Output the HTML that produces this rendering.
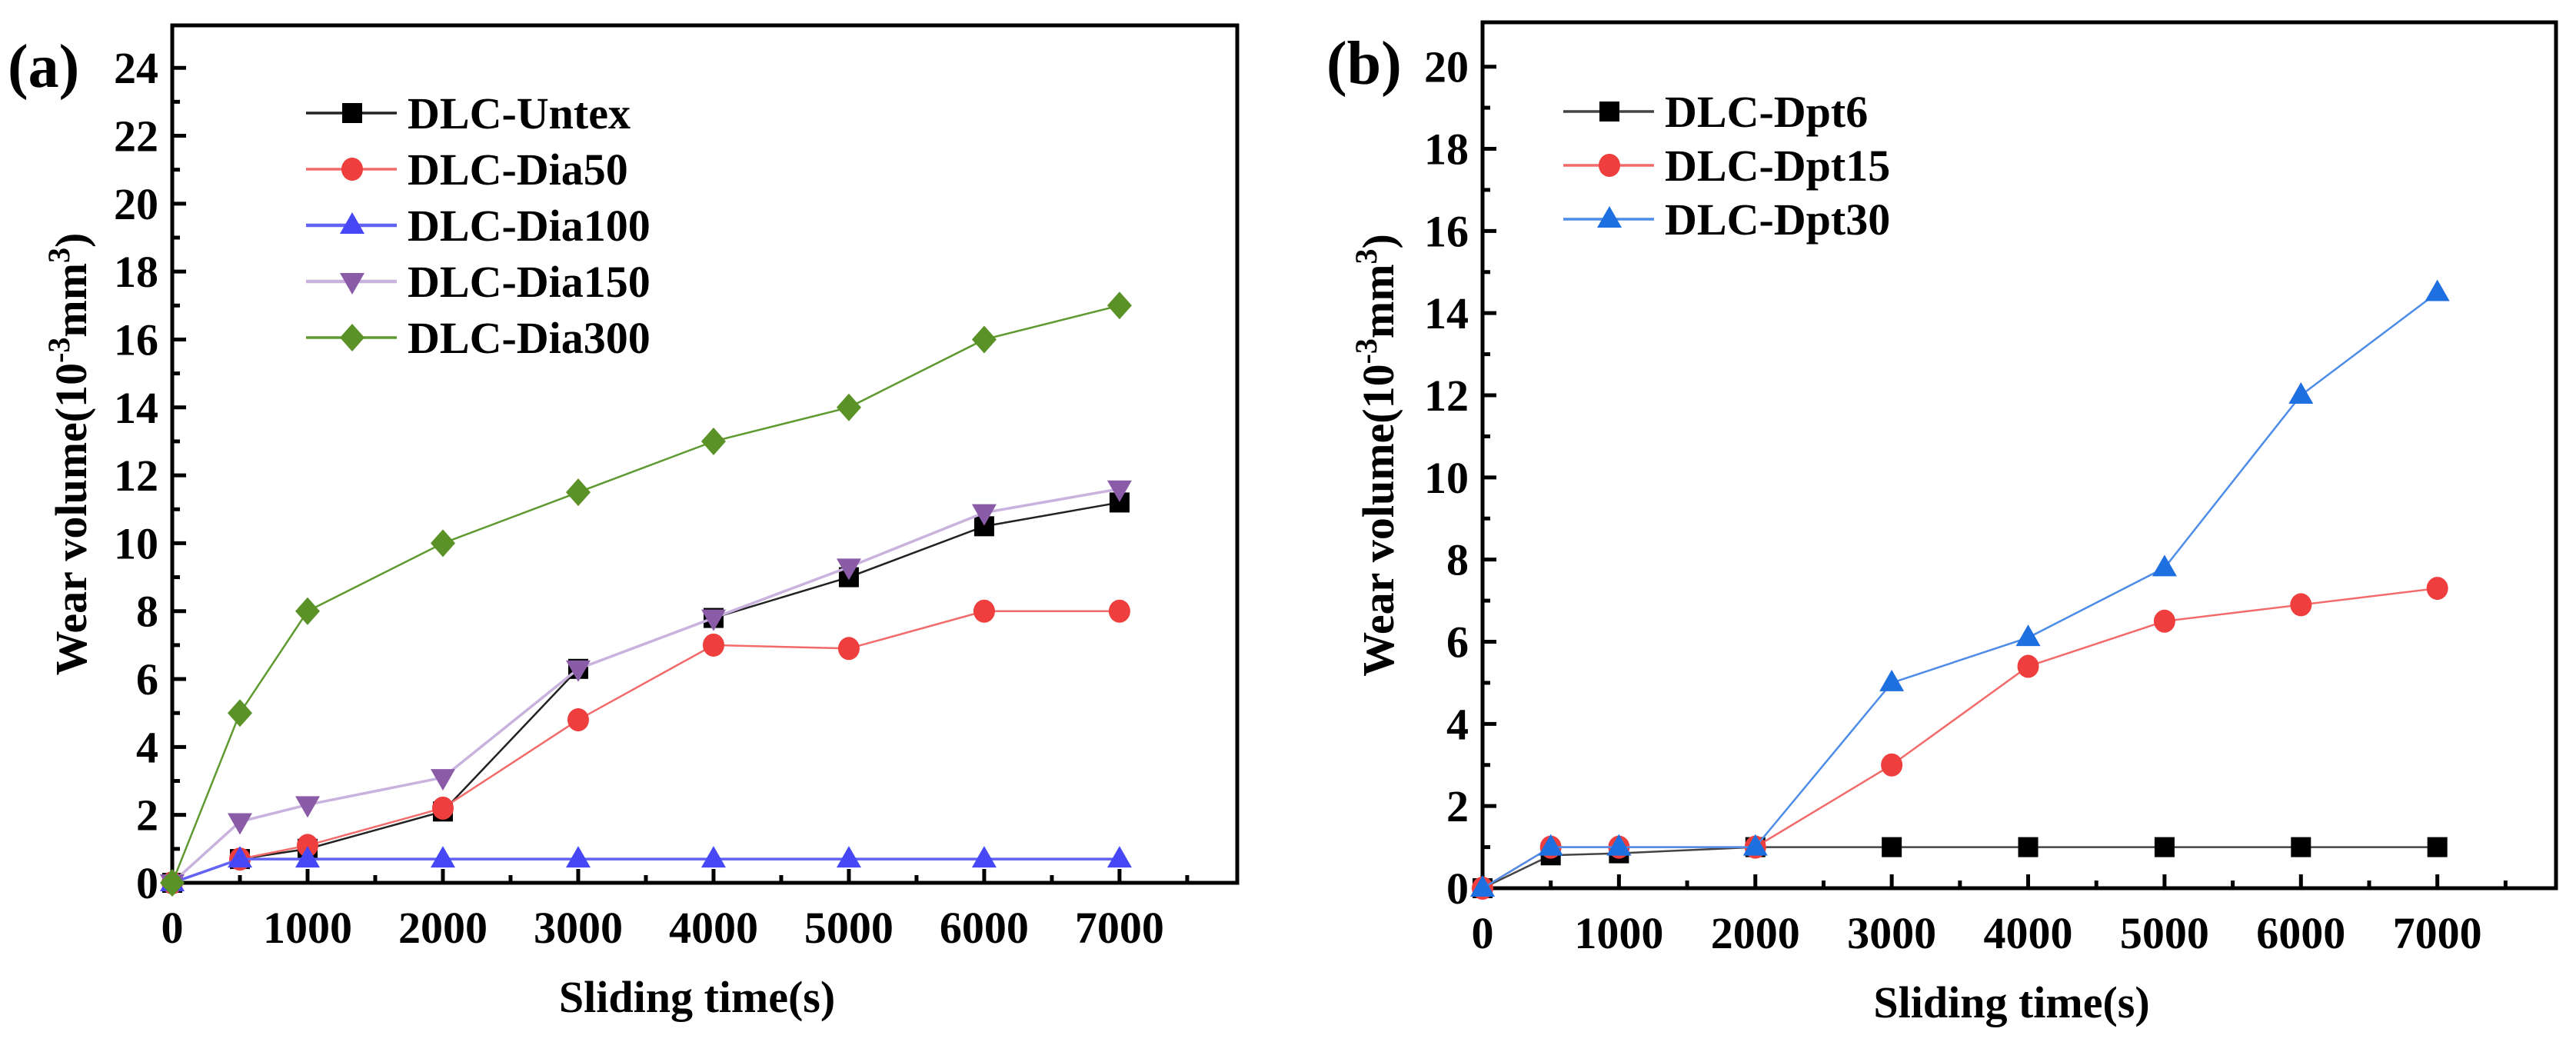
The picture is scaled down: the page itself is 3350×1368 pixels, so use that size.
<!DOCTYPE html>
<html><head><meta charset="utf-8"><style>
html,body{margin:0;padding:0;background:#fff;}
svg{display:block;font-family:"Liberation Serif",serif;font-weight:bold;}
</style></head><body>
<svg id="fig" width="3350" height="1368" viewBox="0 0 3350 1368" xmlns="http://www.w3.org/2000/svg"></svg>
<script>
const xTimes = [0,500,1000,2000,3000,4000,5000,6000,7000];
const xTickLabels = [0,1000,2000,3000,4000,5000,6000,7000];
const aNames = ["DLC-Untex","DLC-Dia50","DLC-Dia100","DLC-Dia150","DLC-Dia300"];
const aUntex = [0,0.7,1.0,2.1,6.3,7.8,9.0,10.5,11.2];
const aDia50 = [0,0.7,1.1,2.2,4.8,7.0,6.9,8.0,8.0];
const aDia100 = [0,0.7,0.7,0.7,0.7,0.7,0.7,0.7,0.7];
const aDia150 = [0,1.8,2.3,3.1,6.3,7.8,9.3,10.9,11.6];
const aDia300 = [0,5,8,10,11.5,13,14,16,17];
const aYTicks = [0,2,4,6,8,10,12,14,16,18,20,22,24];
const bNames = ["DLC-Dpt6","DLC-Dpt15","DLC-Dpt30"];
const bDpt6 = [0,0.8,0.85,1.0,1.0,1.0,1.0,1.0,1.0];
const bDpt15 = [0,1.0,1.0,1.0,3.0,5.4,6.5,6.9,7.3];
const bDpt30 = [0,1.0,1.0,1.0,5.0,6.1,7.8,12.0,14.5];
const bYTicks = [0,2,4,6,8,10,12,14,16,18,20];

const NS="http://www.w3.org/2000/svg";
const svg=document.getElementById('fig');
function mk(tag,attrs,parent){const e=document.createElementNS(NS,tag);for(const k in attrs)e.setAttribute(k,attrs[k]);(parent||svg).appendChild(e);return e;}

function marker(g,shape,cx,cy,color){
  let e;
  if(shape==='square'){e=mk('rect',{x:cx-13,y:cy-13,width:26,height:26,fill:color},g);}
  else if(shape==='circle'){e=mk('ellipse',{cx:cx,cy:cy,rx:14,ry:15,fill:color},g);}
  else if(shape==='up'){e=mk('polygon',{points:`${cx},${cy-17} ${cx+16},${cy+11} ${cx-16},${cy+11}`,fill:color},g);}
  else if(shape==='down'){e=mk('polygon',{points:`${cx},${cy+17} ${cx+16},${cy-11} ${cx-16},${cy-11}`,fill:color},g);}
  else {e=mk('polygon',{points:`${cx},${cy-18} ${cx+16},${cy} ${cx},${cy+18} ${cx-16},${cy}`,fill:color},g);}
  return e;
}

function panel(cfg){
  const {L,R,T,B,ymax,xmax}=cfg;
  const X=v=>L+(v/xmax)*(R-L);
  const Y=v=>B-(v/ymax)*(B-T);
  const g=mk('g',{});
  
  
  // frame
  const fr=mk('rect',{x:L,y:T,width:R-L,height:B-T,fill:'none',stroke:'#000','stroke-width':5},g);
  
  
  // y ticks
  cfg.yTicks.forEach((v,i)=>{
    const y=Y(v);
    const t=mk('line',{x1:L,x2:L+18,y1:y,y2:y,stroke:'#000','stroke-width':5},g);
    
    
    if(i<cfg.yTicks.length-1){const ym=Y(v+1);
      const m=mk('line',{x1:L,x2:L+10,y1:ym,y2:ym,stroke:'#000','stroke-width':5},g);
      
      }
    const tx=mk('text',{x:L-18,y:y+20,'text-anchor':'end','font-size':58},g);
    tx.textContent=v;
    
    
  });
  // x ticks
  xTickLabels.forEach(v=>{
    const x=X(v);
    const t=mk('line',{x1:x,x2:x,y1:B,y2:B-18,stroke:'#000','stroke-width':5},g);
    
    
    const m=mk('line',{x1:X(v+500),x2:X(v+500),y1:B,y2:B-10,stroke:'#000','stroke-width':5},g);
    
    
    const tx=mk('text',{x:x,y:B+78,'text-anchor':'middle','font-size':58},g);
    tx.textContent=v;
    
    
  });
  // series
  cfg.series.forEach(s=>{
    const sg=mk('g',{},g);
    
    
    const pts=s.values.map((v,i)=>X(xTimes[i])+','+Y(v)).join(' ');
    const pl=mk('polyline',{points:pts,fill:'none',stroke:s.line,'stroke-width':s.lw||2.5},sg);
    
    
    s.values.forEach((v,i)=>{
      const m=marker(sg,s.shape,X(xTimes[i]),Y(v),s.color);
      
      
    });
  });
  // legend
  const lg=mk('g',{},g);
  
  
  cfg.series.forEach((s,i)=>{
    const y=cfg.legY+i*cfg.legDy;
    const eg=mk('g',{},lg);
    
    
    mk('line',{x1:cfg.legX,x2:cfg.legX+118,y1:y,y2:y,stroke:s.line,'stroke-width':s.lw?s.lw+1:3.5},eg);
    marker(eg,s.shape,cfg.legX+60,y,s.color);
    const t=mk('text',{x:cfg.legX+132,y:y+20,'font-size':58},eg);
    t.textContent=s.name;
  });
  // titles
  const yt=mk('text',{x:0,y:0,'text-anchor':'middle','font-size':58,transform:`translate(${cfg.ytX},${(T+B)/2}) rotate(-90)`},g);
  yt.innerHTML='Wear volume(10<tspan dy="-22" font-size="40">-3</tspan><tspan dy="22">mm</tspan><tspan dy="-22" font-size="40">3</tspan><tspan dy="22">)</tspan>';
  
  
  const xt=mk('text',{x:(L+R)/2-10,y:B+168,'text-anchor':'middle','font-size':58},g);
  xt.textContent='Sliding time(s)';
  
  
  const pl=mk('text',{x:cfg.labX,y:T+80,'font-size':80},g);
  pl.textContent=cfg.label;
  
  
}

panel({id:'a',L:224,R:1609,T:33,B:1148,ymax:25.25,xmax:7870,yTicks:aYTicks,
  legX:398,legY:147,legDy:73,ytX:112,labX:10,label:'(a)',
  series:[
    {name:aNames[0],values:aUntex,shape:'square',color:'#000',line:'#222'},
    {name:aNames[1],values:aDia50,shape:'circle',color:'#ee3e3e',line:'#f26a6a'},
    {name:aNames[2],values:aDia100,shape:'up',color:'#4747f5',line:'#6262f5',lw:3.5},
    {name:aNames[3],values:aDia150,shape:'down',color:'#8a5ca8',line:'#c9b3de',lw:3.5},
    {name:aNames[4],values:aDia300,shape:'diamond',color:'#5a9228',line:'#5f9a30'}
  ]});
panel({id:'b',L:1928,R:3324,T:29,B:1155,ymax:21.08,xmax:7870,yTicks:bYTicks,
  legX:2033,legY:145,legDy:70,ytX:1812,labX:1725,label:'(b)',
  series:[
    {name:bNames[0],values:bDpt6,shape:'square',color:'#000',line:'#444'},
    {name:bNames[1],values:bDpt15,shape:'circle',color:'#ee3e3e',line:'#f26a6a'},
    {name:bNames[2],values:bDpt30,shape:'up',color:'#1e6fe0',line:'#4d8ce8'}
  ]});
</script>
</body></html>
